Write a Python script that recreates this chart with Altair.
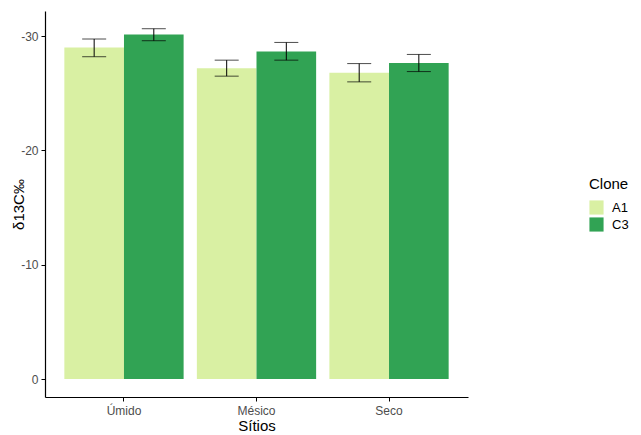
import altair as alt
import pandas as pd

sites = ["Úmido", "Úmido", "Mésico", "Mésico", "Seco", "Seco"]
clones = ["A1", "C3", "A1", "C3", "A1", "C3"]
means = [-29.0, -30.15, -27.2, -28.65, -26.8, -27.65]
lower = [-28.2, -29.6, -26.5, -27.9, -26.0, -26.9]
upper = [-29.75, -30.65, -27.9, -29.45, -27.6, -28.4]

df = pd.DataFrame({"Sitio": sites, "Clone": clones, "mean": means, "lo": lower, "hi": upper})

order = ["Úmido", "Mésico", "Seco"]
font = "Liberation Sans"

x = alt.X("Sitio:N", sort=order, title="Sítios",
          scale=alt.Scale(paddingInner=0.1, paddingOuter=0.146),
          axis=alt.Axis(labelAngle=0, labelColor="#4D4D4D", labelFontSize=12, labelFont=font,
                        titleFont=font, titleFontSize=15, titleFontWeight="normal", titleColor="black",
                        domainColor="black", domainWidth=1.2, tickColor="black", tickSize=4,
                        labelPadding=4, titlePadding=2))
xo = alt.XOffset("Clone:N", sort=["A1", "C3"], scale=alt.Scale(paddingInner=0, paddingOuter=0))
yscale = alt.Scale(domain=[-32.2, 1.57], reverse=True, nice=False, zero=False)

bars = alt.Chart(df).mark_bar().encode(
    x=x, xOffset=xo,
    y=alt.Y("mean:Q", scale=yscale, title="δ13C‰",
            axis=alt.Axis(values=[0, -10, -20, -30], grid=False, labelColor="#4D4D4D", labelFontSize=12,
                          labelFont=font, labelExpr="'' + datum.value",
                          titleFont=font, titleFontSize=15, titleFontWeight="normal",
                          titleColor="black", titleX=-27, titleY=193, titleBaseline="middle",
                          titleAlign="center", titleAngle=270,
                          domainColor="black", domainWidth=1.2, tickColor="black",
                          tickSize=4, labelPadding=3)),
    y2=alt.Y2(datum=0),
    color=alt.Color("Clone:N", sort=["A1", "C3"],
                    scale=alt.Scale(domain=["A1", "C3"], range=["#d9f0a3", "#31a354"]),
                    legend=alt.Legend(title="Clone", orient="none", legendX=544, legendY=166,
                                      titleFont=font, titleFontSize=15, titleFontWeight="normal",
                                      titleColor="black", labelFont=font, labelFontSize=13,
                                      labelColor="black", symbolType="square", symbolSize=200,
                                      symbolStrokeWidth=0, rowPadding=2, titlePadding=8,
                                      labelOffset=8)),
)

rules = alt.Chart(df).mark_rule(color="black", strokeWidth=1).encode(
    x=x, xOffset=xo, y=alt.Y("lo:Q", scale=yscale), y2="hi:Q")

caps_lo = alt.Chart(df).mark_tick(color="black", thickness=1, size=24).encode(
    x=x, xOffset=xo, y=alt.Y("lo:Q", scale=yscale))
caps_hi = alt.Chart(df).mark_tick(color="black", thickness=1, size=24).encode(
    x=x, xOffset=xo, y=alt.Y("hi:Q", scale=yscale))

chart = (bars + rules + caps_lo + caps_hi).properties(
    width=423, height=386,
    autosize=alt.AutoSizeParams(type="none"),
    padding={"left": 37, "top": 3, "right": 165, "bottom": 36},
).configure_view(stroke=None).configure_axis(grid=False)

chart.save("out.html", embed_options={"renderer": "svg", "actions": False})
